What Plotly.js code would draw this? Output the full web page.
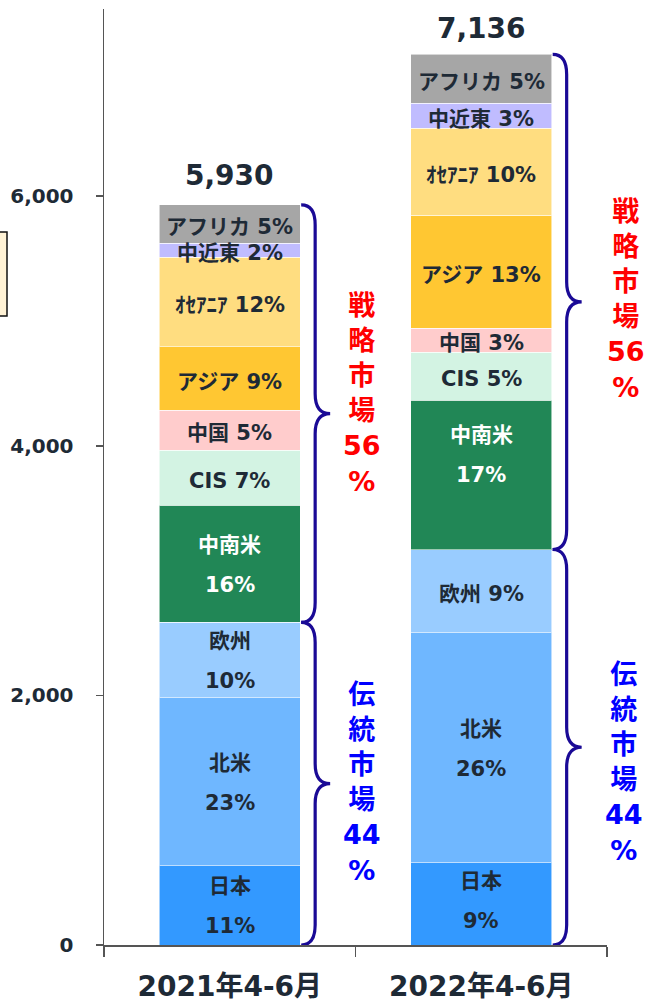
<!DOCTYPE html>
<html>
<head>
<meta charset="utf-8">
<script src="https://cdn.plot.ly/plotly-3.0.1.min.js"></script>
<style>html,body{margin:0;padding:0;background:#fff;}#chart{width:648px;height:1005px;}</style>
</head>
<body>
<div id="chart"></div>
<script>
// ---- data ----
const categories = ['2021年4-6月', '2022年4-6月'];
const regions = ['日本', '北米', '欧州', '中南米', 'CIS', '中国', 'アジア', 'ｵｾｱﾆｱ', '中近東', 'アフリカ'];
const values2021 = [635, 1346, 604, 939, 441, 320, 507, 719, 112, 307];
const values2022 = [659, 1842, 668, 1196, 384, 193, 905, 699, 200, 390];
const pct2021 = ['11%', '23%', '10%', '16%', '7%', '5%', '9%', '12%', '2%', '5%'];
const pct2022 = ['9%', '26%', '9%', '17%', '5%', '3%', '13%', '10%', '3%', '5%'];
const groupNames = ['伝統市場', '戦略市場'];
const groupSizes = [3, 7];              // first 3 regions traditional, remaining 7 strategic
const groupPct2021 = ['44%', '56%'];
const groupPct2022 = ['44%', '56%'];
const yTicks = [0, 2000, 4000, 6000];

// ---- styles ----
const colors = ['#3399FF', '#6FB7FF', '#99CCFF', '#218756', '#D3F3E3', '#FFCCCC', '#FFC732', '#FFDD80', '#C0BCFF', '#A6A6A6'];
const textColors = ['#1e2a36', '#1e2a36', '#1e2a36', '#ffffff', '#1e2a36', '#1e2a36', '#1e2a36', '#1e2a36', '#1e2a36', '#1e2a36'];
const twoLine = [[true, true, true, true, false, false, false, false, false, false],
                 [true, true, false, true, false, false, false, false, false, false]];
// label pixel shifts (upwards) for individual segments
const labelShift = [[0, 0, 0, 0, 0, 0, 0, 0, 0, 0],
                    [4, 0, 0, 21, 0, 0, 0, 0, 0, 0]];
const groupColors = ['#0000FF', '#FF0000'];
const braceColor = '#1A0A96';
const FONT = 'DejaVu Sans, Noto Sans CJK JP, sans-serif';
const DARK = '#1e2a36';

const M = {l: 104, r: 41, t: 9, b: 60};
const W = 648, H = 1005;
const yMax = 7500;
const plotW = W - M.l - M.r, plotH = H - M.t - M.b;
const pxPerCat = plotW / categories.length;
const pxPerUnit = plotH / yMax;
const dx = px => px / pxPerCat;
const dy = px => px / pxPerUnit;
const barWidth = 0.56;

const series = [values2021, values2022];
const pcts = [pct2021, pct2022];
const groupPcts = [groupPct2021, groupPct2022];

const traces = regions.map((r, i) => ({
  type: 'bar',
  name: r,
  x: categories,
  y: series.map(s => s[i]),
  width: barWidth,
  marker: {color: colors[i], line: {color: 'rgba(255,255,255,0.55)', width: 1}},
  hoverinfo: 'skip',
  showlegend: false
}));

const annotations = [];
const shapes = [];

series.forEach((vals, c) => {
  let cum = 0;
  const cums = [0];
  vals.forEach((v, i) => {
    const mid = cum + v / 2;
    cum += v;
    cums.push(cum);
    const s = labelShift[c][i];
    const base = {x: categories[c], y: mid, xref: 'x', yref: 'y', showarrow: false,
      font: {family: FONT, size: 21, color: textColors[i], weight: 700}};
    if (twoLine[c][i]) {
      annotations.push(Object.assign({}, base, {text: regions[i], yshift: 19 + s}));
      annotations.push(Object.assign({}, base, {text: pcts[c][i], yshift: -21 + s}));
    } else {
      annotations.push(Object.assign({}, base, {text: regions[i] + ' ' + pcts[c][i], yshift: -3 + s}));
    }
  });
  // total label
  annotations.push({x: categories[c], y: cum, xref: 'x', yref: 'y', showarrow: false,
    text: cum.toLocaleString('en-US'), yanchor: 'bottom', yshift: c === 0 ? 11 : 7,
    font: {family: FONT, size: 28, color: DARK, weight: 700}});

  // braces
  const edge = c + barWidth / 2;
  const x0 = edge + dx(1), x1 = edge + dx(15), x2 = edge + dx(30);
  const r = dy(20);
  let startIdx = 0;
  groupNames.forEach((g, gi) => {
    const yBot = cums[startIdx];
    const yTop = cums[startIdx + groupSizes[gi]];
    startIdx += groupSizes[gi];
    const yTip = (yBot + yTop) / 2;
    const f = v => v.toFixed(4);
    const path = `M ${f(x0)},${f(yTop)} Q ${f(x1)},${f(yTop)} ${f(x1)},${f(yTop - r)} ` +
      `L ${f(x1)},${f(yTip + r)} Q ${f(x1)},${f(yTip)} ${f(x2)},${f(yTip)} ` +
      `Q ${f(x1)},${f(yTip)} ${f(x1)},${f(yTip - r)} ` +
      `L ${f(x1)},${f(yBot + r)} Q ${f(x1)},${f(yBot)} ${f(x0)},${f(yBot)}`;
    shapes.push({type: 'path', xref: 'x', yref: 'y', path: path,
      line: {color: braceColor, width: 3.2}, layer: 'above'});
    const chars = g.split('').join('<br>') + '<br>' + groupPcts[c][gi].replace('%', '') + '<br>%';
    const textOffsets = [[{x: 62, y: 1}, {x: 62, y: 20}], [{x: 72, y: -15}, {x: 74, y: 2}]];
    const o = textOffsets[c][gi];
    // paper x so that text beyond the plot area on the right is still drawn
    const paperX = (edge + 0.5) / categories.length + o.x / plotW;
    annotations.push({x: paperX, y: yTip + dy(o.y), xref: 'paper', yref: 'y', showarrow: false,
      text: chars, font: {family: FONT, size: 27, color: groupColors[gi], weight: 700},
      xanchor: 'center', yanchor: 'middle'});
  });
});

// partial box at left edge
shapes.push({type: 'rect', xref: 'paper', yref: 'paper',
  x0: (-6 - M.l) / plotW, x1: (7 - M.l) / plotW,
  y0: (H - M.b - 316) / plotH, y1: (H - M.b - 232) / plotH,
  fillcolor: '#FFF2D5', line: {color: '#111', width: 1.5}, layer: 'above'});

const layout = {
  width: W, height: H,
  margin: M,
  paper_bgcolor: '#fff', plot_bgcolor: '#fff',
  barmode: 'stack',
  showlegend: false,
  xaxis: {
    type: 'category', range: [-0.5, categories.length - 0.5], autorange: false,
    tickson: 'boundaries', ticks: 'outside', ticklen: 10, tickwidth: 1.5,
    tickcolor: '#555', showline: true, linecolor: '#555', linewidth: 1.5, showgrid: false,
    tickfont: {family: FONT, size: 28, color: DARK, weight: 700}, ticklabelstandoff: 16,
    fixedrange: true
  },
  yaxis: {
    range: [0, yMax], autorange: false, tickvals: yTicks, tickformat: ',', ticks: 'outside', ticklen: 7, tickwidth: 1.5,
    tickcolor: '#555', showline: true, linecolor: '#555', linewidth: 1.5, showgrid: false, zeroline: false,
    tickfont: {family: FONT, size: 20, color: DARK, weight: 700}, ticklabelstandoff: 18,
    fixedrange: true
  },
  annotations: annotations,
  shapes: shapes
};

Plotly.newPlot('chart', traces, layout, {displayModeBar: false, staticPlot: true});
</script>
</body>
</html>
